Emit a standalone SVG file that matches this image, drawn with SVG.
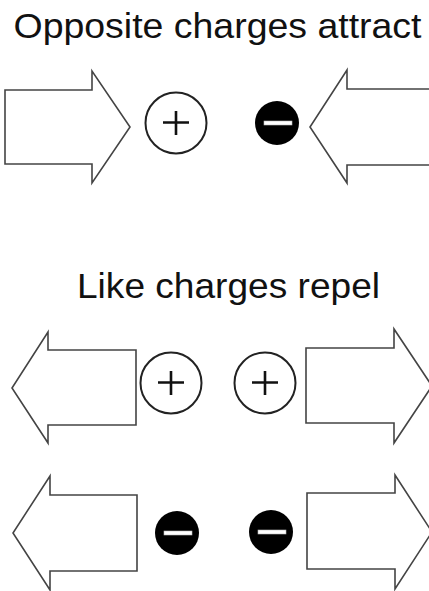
<svg xmlns="http://www.w3.org/2000/svg" width="429" height="591" viewBox="0 0 429 591">
<style>
.title{font-family:"Liberation Sans",Arial,sans-serif;font-size:35px;fill:#111;text-anchor:middle}
.arrow{fill:#fff;stroke:#444;stroke-width:1.6;stroke-linejoin:miter}
.pos{fill:#fff;stroke:#222;stroke-width:2}
.sign{stroke:#111;stroke-width:2.6;fill:none}
.neg{fill:#000}
.bar{fill:#fff;stroke:#bbb;stroke-width:0.6}
</style>
<rect width="429" height="591" fill="#fff"/>
<text id="title-attract" class="title" x="217.5" y="38" textLength="408" lengthAdjust="spacingAndGlyphs">Opposite charges attract</text>
<text id="title-repel" class="title" x="228.5" y="298" textLength="303" lengthAdjust="spacingAndGlyphs">Like charges repel</text>
<g id="connectors">
<polygon id="arrow-top-left" class="arrow" points="5,90 92,90 92,71 130,127 92,183 92,164 5,164"/>
<polygon id="arrow-top-right" class="arrow" points="432,89 347,89 347,70 310,127 347,183 347,165 432,165"/>
<polygon id="arrow-mid-left" class="arrow" points="136,350 48,350 48,332 12,388 48,443 48,425 136,425"/>
<polygon id="arrow-mid-right" class="arrow" points="306,348 394,348 394,329 432,386 394,443 394,423 306,423"/>
<polygon id="arrow-bot-left" class="arrow" points="137,495 50,495 50,476 13,533 50,590 50,571 137,571"/>
<polygon id="arrow-bot-right" class="arrow" points="307,493 395,493 395,475 432,532 395,589 395,569 307,569"/>
</g>
<g id="charge-top-pos">
<circle class="pos" cx="176" cy="123" r="30.5"/>
<path class="sign" d="M163,122.5H189M176,111V135"/>
</g>
<g id="charge-top-neg">
<circle class="neg" cx="277" cy="123" r="22"/>
<rect class="bar" x="264" y="121" width="28" height="4"/>
</g>
<g id="charge-mid-pos1">
<circle class="pos" cx="171" cy="383" r="30.5"/>
<path class="sign" d="M158,382.5H184M171,371V395"/>
</g>
<g id="charge-mid-pos2">
<circle class="pos" cx="265" cy="383" r="30.5"/>
<path class="sign" d="M252,382.5H278M265,371V395"/>
</g>
<g id="charge-bot-neg1">
<circle class="neg" cx="177" cy="533" r="22"/>
<rect class="bar" x="164" y="531" width="28" height="4"/>
</g>
<g id="charge-bot-neg2">
<circle class="neg" cx="271" cy="532" r="22"/>
<rect class="bar" x="258" y="530" width="28" height="4"/>
</g>
</svg>
